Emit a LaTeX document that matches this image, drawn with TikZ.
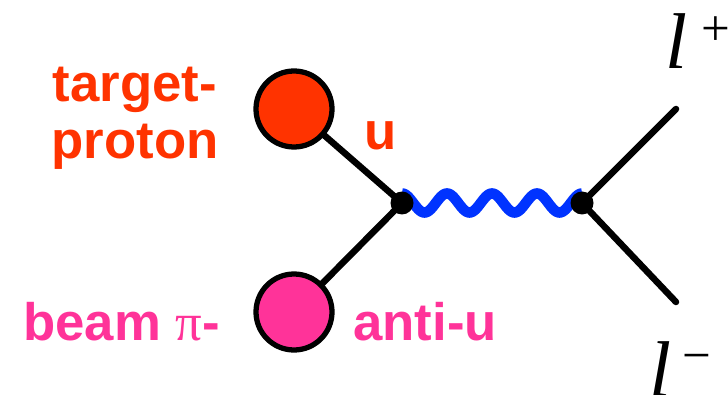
\documentclass[tikz,border=0pt]{standalone}
\usepackage{fontspec}
\setmainfont{Liberation Sans}
\newfontfamily\serifsym{Liberation Serif}

\definecolor{quarkred}{RGB}{255,51,0}
\definecolor{pionpink}{RGB}{255,51,153}
\definecolor{photonblue}{RGB}{0,51,255}

\begin{document}
\begin{tikzpicture}[
    quark/.style={circle, draw=black, line width=3pt, minimum size=1.52cm, inner sep=0pt},
    fermion/.style={draw=black, line width=3.7pt, line cap=round},
    photon/.style={draw=photonblue, line width=6pt},
    vertex/.style={circle, fill=black, minimum size=0.46cm, inner sep=0pt},
    partname/.style={font=\fontsize{30}{32.5}\selectfont\bfseries},
    lepton/.style={font=\serifsym\fontsize{45}{50}\selectfont\itshape, inner sep=0pt},
]
\useasboundingbox (0,0) rectangle (14.56,7.88);

% ---------------------------------------------------------
% Annihilation vertex and virtual photon
% ---------------------------------------------------------
\coordinate (v1) at (8.04,3.82);
\coordinate (v2) at (11.64,3.82);
\coordinate (lp) at (13.52,5.70);
\coordinate (lm) at (13.52,1.84);

\node[quark, fill=quarkred] (up) at (5.88,5.70) {};
\node[quark, fill=pionpink] (antiup) at (5.88,1.64) {};

\draw[fermion] (up) -- (v1);
\draw[fermion] (antiup) -- (v1);
\draw[photon] plot[domain=0:3.6, samples=121, smooth]
  ([shift={(\x,{0.19*cos(\x/0.9*360)})}]v1);
\draw[fermion] (v2) -- (lp);
\draw[fermion] (v2) -- (lm);

\node[vertex] (dot1) at (v1) {};
\node[vertex] (dot2) at (v2) {};

% ---------------------------------------------------------
% Labels
% ---------------------------------------------------------
\node[partname, quarkred, align=center] (target) at (2.70,5.51)
  {target-\\proton};
\node[partname, quarkred, anchor=base] (ulabel) at (7.62,4.88) {u};
\node[partname, pionpink, anchor=base west, inner sep=0pt] (beam) at (0.46,1.08)
  {beam {\serifsym\mdseries π}-};
\node[partname, pionpink, anchor=base west, inner sep=0pt] (anti) at (7.06,1.08)
  {anti-u};

\node[lepton, anchor=base west] (lplus) at (13.30,6.50)
  {l\hspace{0.18em}\raisebox{0.3em}{\fontsize{29}{30}\selectfont\upshape +}};
\node[lepton, anchor=base west] (lminus) at (12.98,-0.04)
  {l\hspace{0.14em}\raisebox{0.3em}{\fontsize{29}{30}\selectfont\upshape −}};
\end{tikzpicture}
\end{document}
